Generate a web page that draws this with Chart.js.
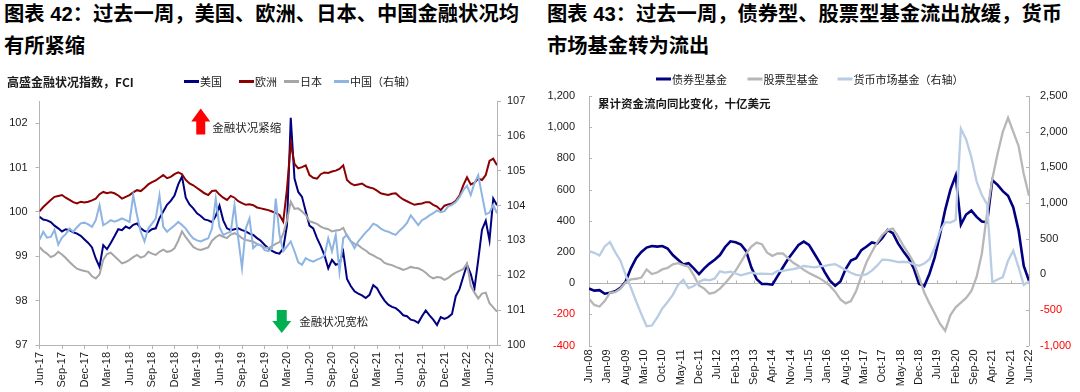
<!DOCTYPE html>
<html>
<head>
<meta charset="utf-8">
<script src="https://cdn.jsdelivr.net/npm/chart.js@4.4.0/dist/chart.umd.min.js"></script>
<style>
  body { margin: 0; width: 1080px; height: 392px; background: #fff; overflow: hidden; }
  .panel { position: absolute; top: 0; width: 540px; height: 392px; }
  .title { position: absolute; top: -2px; font: bold 20.3px/32px "Liberation Sans", "Noto Sans CJK SC", sans-serif; color: #000; white-space: nowrap; }
  canvas { position: absolute; left: 0; top: 0; }
</style>
</head>
<body>
<div class="panel" style="left:0">
  <div class="title" style="left:4px">图表 42：过去一周，美国、欧洲、日本、中国金融状况均<br>有所紧缩</div>
  <canvas id="fci-chart" width="540" height="392"></canvas>
</div>
<div class="panel" style="left:540px">
  <div class="title" style="left:7px">图表 43：过去一周，债券型、股票型基金流出放缓，货币<br>市场基金转为流出</div>
  <canvas id="flow-chart" width="540" height="392"></canvas>
</div>
<script>
// ---- chart 42: FCI, half-month steps from Jun-17 ----
const fciTicks = ["Jun-17","Sep-17","Dec-17","Mar-18","Jun-18","Sep-18","Dec-18","Mar-19","Jun-19","Sep-19","Dec-19",
  "Mar-20","Jun-20","Sep-20","Dec-20","Mar-21","Jun-21","Sep-21","Dec-21","Mar-22","Jun-22"];
const fciLeftTicks = [97, 98, 99, 100, 101, 102];
const fciRightTicks = [100, 101, 102, 103, 104, 105, 106, 107];
const fciNames = ["美国", "欧洲", "日本", "中国（右轴）"];

const fciUS = [99.89,99.83,99.81,99.77,99.69,99.63,99.56,99.61,99.59,99.54,
  99.51,99.46,99.38,99.30,99.20,98.95,98.76,99.25,99.16,99.30,
  99.45,99.61,99.59,99.67,99.63,99.71,99.74,99.63,99.57,99.55,
  99.61,99.63,99.86,100.01,100.16,100.25,100.37,100.62,100.80,100.32,
  100.17,100.08,99.97,99.91,99.83,99.81,99.77,99.91,100.14,99.81,
  99.63,99.59,99.61,99.63,99.59,99.56,99.51,99.48,99.41,99.35,
  99.26,99.18,99.12,99.08,99.06,99.18,99.70,102.12,100.75,100.45,
  100.34,100.01,99.69,99.63,99.41,99.23,99.02,98.73,98.92,98.81,
  98.84,99.10,98.49,98.33,98.21,98.16,98.12,98.06,98.13,98.35,
  98.28,98.13,98.00,97.91,97.86,97.83,97.76,97.67,97.65,97.57,
  97.55,97.50,97.65,97.78,97.67,97.57,97.45,97.63,97.59,97.63,
  97.70,98.10,98.26,98.54,98.81,98.60,98.28,98.92,99.60,99.80,
  99.36,100.30,100.15];
const fciEU = [100.01,100.11,100.19,100.27,100.34,100.36,100.38,100.32,100.27,100.22,
  100.19,100.23,100.21,100.23,100.26,100.30,100.40,100.45,100.42,100.44,
  100.42,100.37,100.30,100.34,100.38,100.44,100.49,100.47,100.54,100.62,
  100.67,100.71,100.77,100.83,100.76,100.79,100.85,100.89,100.85,100.72,
  100.64,100.60,100.54,100.48,100.42,100.38,100.47,100.48,100.39,100.32,
  100.27,100.36,100.32,100.24,100.20,100.16,100.17,100.15,100.10,100.08,
  100.06,100.04,100.01,99.98,99.93,99.78,100.52,101.55,101.08,100.98,
  101.01,101.05,100.83,100.77,100.75,100.85,100.89,100.88,100.91,100.93,
  100.97,101.05,100.72,100.64,100.60,100.62,100.64,100.58,100.55,100.53,
  100.48,100.42,100.40,100.38,100.41,100.42,100.34,100.28,100.24,100.20,
  100.16,100.18,100.19,100.22,100.22,100.16,100.12,100.04,100.14,100.17,
  100.19,100.25,100.37,100.60,100.78,100.62,100.66,100.75,100.72,100.83,
  101.15,101.20,101.05];
const fciJP = [99.21,99.12,99.06,98.98,99.02,99.10,99.04,98.96,98.87,98.79,
  98.72,98.69,98.67,98.65,98.55,98.50,98.59,98.92,99.05,99.08,
  99.00,98.92,98.84,98.87,98.92,98.98,99.03,98.97,99.00,99.10,
  99.06,99.03,99.10,99.15,99.10,99.12,99.18,99.35,99.56,99.43,
  99.32,99.21,99.16,99.14,99.17,99.20,99.35,99.43,99.48,99.44,
  99.41,99.49,99.52,99.48,99.41,99.37,99.35,99.33,99.28,99.24,
  99.20,99.18,99.23,99.28,99.32,99.51,99.81,100.23,100.07,100.08,
  100.01,99.93,99.79,99.76,99.73,99.67,99.63,99.61,99.56,99.58,
  99.59,99.64,99.46,99.34,99.28,99.25,99.18,99.13,99.06,99.02,
  98.97,98.93,98.85,98.82,98.80,98.76,98.73,98.69,98.72,98.76,
  98.74,98.73,98.69,98.63,98.55,98.50,98.53,98.52,98.47,98.51,
  98.58,98.63,98.67,98.71,98.84,98.33,98.18,98.05,98.16,98.18,
  97.94,97.85,97.75];
const fciCN = [103.02,103.25,103.08,103.10,103.30,102.88,103.08,103.18,103.34,103.25,
  103.38,103.49,103.51,103.46,103.39,103.58,104.01,103.44,103.50,103.58,
  103.54,103.58,103.63,103.58,103.53,104.29,103.72,103.25,102.97,103.34,
  103.48,103.63,104.29,103.39,103.25,103.34,103.43,103.53,103.44,103.34,
  103.18,103.06,103.00,102.97,103.02,103.06,103.34,104.20,103.38,103.16,
  103.21,103.25,104.01,103.06,102.21,103.34,103.63,102.78,102.88,102.87,
  102.73,102.69,102.76,104.20,103.16,102.69,102.83,102.97,102.69,102.37,
  102.30,102.49,102.43,102.39,102.45,102.49,102.57,103.06,102.69,103.16,
  102.10,103.06,103.16,102.98,102.78,102.97,103.10,103.23,103.34,103.48,
  103.43,103.34,103.28,103.25,103.20,103.16,103.28,103.38,103.50,103.72,
  103.58,103.44,103.58,103.64,103.72,103.78,103.86,103.81,103.84,103.98,
  104.02,104.10,104.24,104.44,104.57,104.30,104.65,104.87,104.30,103.75,
  103.80,104.02,103.78];

// ---- chart 43: fund flows, two-month steps from Jun-08 ----
const flowTicks = ["Jun-08","Jan-09","Aug-09","Mar-10","Oct-10","May-11","Dec-11","Jul-12","Feb-13","Sep-13",
  "Apr-14","Nov-14","Jun-15","Jan-16","Aug-16","Mar-17","Oct-17","May-18","Dec-18","Jul-19",
  "Feb-20","Sep-20","Apr-21","Nov-21","Jun-22"];
const flowLeftTicks = [-400, -200, 0, 200, 400, 600, 800, 1000, 1200];
const flowRightTicks = [-1000, -500, 0, 500, 1000, 1500, 2000, 2500];
const flowNames = ["债券型基金", "股票型基金", "货币市场基金（右轴）"];

const flowBond = [-35,-48,-45,-68,-62,-52,-30,10,95,160,
  200,228,238,234,238,222,180,150,120,128,
  95,58,95,125,150,180,232,268,262,248,
  205,100,26,-6,-6,-10,45,100,155,200,
  245,266,245,190,135,70,15,-17,10,90,
  145,160,212,235,261,253,290,340,320,255,
  205,160,95,-5,-20,60,165,310,470,600,
  690,375,440,465,425,395,390,660,630,590,
  560,485,340,110,15];
const flowEquity = [-100,-140,-150,-115,-62,-58,-35,5,24,28,
  36,88,58,68,88,98,120,128,115,105,
  50,-15,-35,-68,-60,-35,0,40,80,135,
  190,235,260,250,195,175,190,190,160,130,
  110,85,65,48,32,10,-18,-55,-105,-130,
  -115,-50,45,135,200,260,310,340,350,300,
  240,190,130,40,-60,-130,-195,-260,-305,-205,
  -155,-125,-95,-50,40,190,450,670,830,970,
  1060,970,880,700,560];
const flowMMF = [326,300,262,390,450,310,190,-10,-190,-380,
  -560,-730,-720,-610,-480,-390,-290,-150,-80,-195,
  -165,-110,-75,-85,-60,40,22,35,10,-15,
  5,25,5,8,5,2,45,48,60,70,
  90,115,105,95,110,117,130,140,100,60,
  20,-10,-20,0,50,120,205,200,187,170,
  175,165,140,118,150,210,370,600,730,725,
  760,2040,1890,1640,1300,1110,980,-114,-75,-40,
  190,330,100,-150,-100];

const tickFont = { family: "Liberation Sans", size: 11 };
const cjkFont = '"Noto Sans CJK SC", sans-serif';
const axisGrey = "#b4b4b4";

// legend drawn by hand so items sit where they sit in the report
function legendPlugin(items) {
  return {
    id: "handLegend",
    afterDraw(chart) {
      const ctx = chart.ctx;
      ctx.save();
      ctx.font = "11px " + cjkFont;
      ctx.textBaseline = "middle";
      items.forEach(it => {
        ctx.strokeStyle = it.color;
        ctx.lineWidth = 3;
        ctx.beginPath();
        ctx.moveTo(it.x, it.y);
        ctx.lineTo(it.x + 15, it.y);
        ctx.stroke();
        ctx.fillStyle = "#1a1a1a";
        ctx.fillText(it.label, it.x + 16, it.y + 0.5);
      });
      ctx.restore();
    }
  };
}

function labelPlugin(id, texts) {
  return {
    id: id,
    afterDraw(chart) {
      const ctx = chart.ctx;
      ctx.save();
      ctx.textBaseline = "middle";
      texts.forEach(t => {
        ctx.font = t.font;
        ctx.fillStyle = t.color;
        ctx.fillText(t.text, t.x, t.y);
      });
      ctx.restore();
    }
  };
}

// red / green arrows, placed with the chart's own scales
const arrowPlugin = {
  id: "fciArrows",
  afterDraw(chart) {
    const { ctx, scales: { x, y } } = chart;
    ctx.save();
    // tightening, pointing up
    let cx = x.getPixelForValue(21.5), top = y.getPixelForValue(102.33);
    ctx.fillStyle = "#ff0000";
    ctx.beginPath();
    ctx.moveTo(cx, top);
    ctx.lineTo(cx + 9.5, top + 13);
    ctx.lineTo(cx + 4.5, top + 13);
    ctx.lineTo(cx + 4.5, top + 26);
    ctx.lineTo(cx - 4.5, top + 26);
    ctx.lineTo(cx - 4.5, top + 13);
    ctx.lineTo(cx - 9.5, top + 13);
    ctx.closePath();
    ctx.fill();
    // easing, pointing down
    cx = x.getPixelForValue(32.3);
    top = y.getPixelForValue(97.79);
    ctx.fillStyle = "#00b050";
    ctx.beginPath();
    ctx.moveTo(cx - 5, top);
    ctx.lineTo(cx + 5, top);
    ctx.lineTo(cx + 5, top + 11);
    ctx.lineTo(cx + 9.5, top + 11);
    ctx.lineTo(cx, top + 23);
    ctx.lineTo(cx - 9.5, top + 11);
    ctx.lineTo(cx - 5, top + 11);
    ctx.closePath();
    ctx.fill();
    ctx.font = "11.5px " + cjkFont;
    ctx.fillStyle = "#262626";
    ctx.textBaseline = "middle";
    ctx.fillText("金融状况紧缩", x.getPixelForValue(21.5) + 11.5, y.getPixelForValue(102.33) + 19);
    ctx.fillText("金融状况宽松", cx + 17.5, top + 12);
    ctx.restore();
  }
};

// inward tick marks on the flow chart, x ticks sit on the zero line
const flowTickPlugin = {
  id: "flowTicks",
  beforeDatasetsDraw(chart) {
    const { ctx, scales: { x, y, y1 } } = chart;
    ctx.save();
    ctx.strokeStyle = axisGrey;
    ctx.lineWidth = 1;
    ctx.beginPath();
    const zeroY = Math.round(y.getPixelForValue(0)) + 0.5;
    x.ticks.forEach(t => {
      const px = Math.round(x.getPixelForValue(t.value)) + 0.5;
      ctx.moveTo(px, zeroY - 3);
      ctx.lineTo(px, zeroY);
    });
    y.ticks.forEach(t => {
      const py = Math.round(y.getPixelForValue(t.value)) + 0.5;
      ctx.moveTo(y.right, py);
      ctx.lineTo(y.right + 3, py);
    });
    y1.ticks.forEach(t => {
      const py = Math.round(y1.getPixelForValue(t.value)) + 0.5;
      ctx.moveTo(y1.left - 3, py);
      ctx.lineTo(y1.left, py);
    });
    ctx.stroke();
    ctx.restore();
  }
};

function series(values, step) {
  return values.map((v, i) => ({ x: i * step, y: v }));
}

const fciColors = ["#000080", "#8b0000", "#a6a6a6", "#8db4e2"];

new Chart(document.getElementById("fci-chart").getContext("2d"), {
  type: "line",
  data: {
    datasets: [
      { label: fciNames[0], data: series(fciUS, 0.5), borderColor: fciColors[0], borderWidth: 2, yAxisID: "y", order: 3 },
      { label: fciNames[1], data: series(fciEU, 0.5), borderColor: fciColors[1], borderWidth: 2, yAxisID: "y", order: 2 },
      { label: fciNames[2], data: series(fciJP, 0.5), borderColor: fciColors[2], borderWidth: 2, yAxisID: "y", order: 1 },
      { label: fciNames[3], data: series(fciCN, 0.5), borderColor: fciColors[3], borderWidth: 2, yAxisID: "y1", order: 0 }
    ]
  },
  options: {
    responsive: false,
    animation: false,
    layout: { padding: { top: 101, left: 0, right: 0, bottom: 0 } },
    elements: { point: { radius: 0 }, line: { tension: 0 } },
    plugins: { legend: { display: false }, tooltip: { enabled: false } },
    scales: {
      x: {
        type: "linear", min: 0, max: 61,
        afterBuildTicks: s => { s.ticks = fciTicks.map((_, i) => ({ value: i * 3 })); },
        afterFit: s => { s.height = 47; },
        ticks: { autoSkip: false, minRotation: 90, maxRotation: 90, padding: 3, color: "#1a1a1a", font: tickFont,
                 callback: (v, i) => fciTicks[i] },
        grid: { drawOnChartArea: false, tickLength: 4, color: axisGrey },
        border: { color: axisGrey }
      },
      y: {
        position: "left", min: 97, max: 102.5,
        afterBuildTicks: s => { s.ticks = fciLeftTicks.map(v => ({ value: v })); },
        afterFit: s => { s.width = 39.5; },
        ticks: { padding: 8, color: "#1a1a1a", font: tickFont },
        grid: { drawOnChartArea: false, tickLength: 4, color: axisGrey },
        border: { color: axisGrey }
      },
      y1: {
        position: "right", min: 100, max: 107,
        afterBuildTicks: s => { s.ticks = fciRightTicks.map(v => ({ value: v })); },
        afterFit: s => { s.width = 43; },
        ticks: { padding: 6, color: "#1a1a1a", font: tickFont },
        grid: { drawOnChartArea: false, tickLength: 4, color: axisGrey },
        border: { color: axisGrey }
      }
    }
  },
  plugins: [
    arrowPlugin,
    legendPlugin([
      { label: fciNames[0], color: fciColors[0], x: 184, y: 81.5 },
      { label: fciNames[1], color: fciColors[1], x: 239, y: 81.5 },
      { label: fciNames[2], color: fciColors[2], x: 284, y: 81.5 },
      { label: fciNames[3], color: fciColors[3], x: 334, y: 81.5 }
    ]),
    labelPlugin("fciAxisTitle", [
      { text: "高盛金融状况指数，FCI", x: 7, y: 82, font: "bold 12px " + cjkFont, color: "#1a1a1a" }
    ])
  ]
});

const flowColors = ["#000080", "#b7b7b7", "#b8cce4"];
const fmt = v => v.toLocaleString("en-US");
const negRed = c => (c.tick && c.tick.value < 0 ? "#ff0000" : "#1a1a1a");

new Chart(document.getElementById("flow-chart").getContext("2d"), {
  type: "line",
  data: {
    datasets: [
      { label: flowNames[0], data: series(flowBond, 2), borderColor: flowColors[0], borderWidth: 2.6, yAxisID: "y", order: 2 },
      { label: flowNames[1], data: series(flowEquity, 2), borderColor: flowColors[1], borderWidth: 2.3, yAxisID: "y", order: 1 },
      { label: flowNames[2], data: series(flowMMF, 2), borderColor: flowColors[2], borderWidth: 2.3, yAxisID: "y1", order: 0 }
    ]
  },
  options: {
    responsive: false,
    animation: false,
    layout: { padding: { top: 96, left: 0, right: 0, bottom: 0 } },
    elements: { point: { radius: 0 }, line: { tension: 0 } },
    plugins: { legend: { display: false }, tooltip: { enabled: false } },
    scales: {
      x: {
        type: "linear", min: 0, max: 168,
        afterBuildTicks: s => { s.ticks = flowTicks.map((_, i) => ({ value: i * 7 })); },
        afterFit: s => { s.height = 46.5; },
        ticks: { autoSkip: false, minRotation: 90, maxRotation: 90, padding: 4, color: "#1a1a1a", font: tickFont,
                 callback: (v, i) => flowTicks[i] },
        grid: { display: false, drawTicks: false },
        border: { display: false }
      },
      y: {
        position: "left", min: -400, max: 1200,
        afterBuildTicks: s => { s.ticks = flowLeftTicks.map(v => ({ value: v })); },
        afterFit: s => { s.width = 49; },
        ticks: { padding: 14, color: negRed, font: tickFont, callback: v => fmt(v) },
        grid: { drawTicks: false, color: c => (c.tick && c.tick.value === 0 ? axisGrey : "rgba(0,0,0,0)") },
        border: { color: axisGrey }
      },
      y1: {
        position: "right", min: -1000, max: 2500,
        afterBuildTicks: s => { s.ticks = flowRightTicks.map(v => ({ value: v })); },
        afterFit: s => { s.width = 51; },
        ticks: { padding: 11, color: negRed, font: tickFont, callback: v => fmt(v) },
        grid: { drawOnChartArea: false, drawTicks: false },
        border: { color: axisGrey }
      }
    }
  },
  plugins: [
    flowTickPlugin,
    legendPlugin([
      { label: flowNames[0], color: flowColors[0], x: 116, y: 79 },
      { label: flowNames[1], color: flowColors[1], x: 207.5, y: 79 },
      { label: flowNames[2], color: flowColors[2], x: 297.5, y: 79 }
    ]),
    labelPlugin("flowNote", [
      { text: "累计资金流向同比变化，十亿美元", x: 58, y: 103.5, font: "bold 11.5px " + cjkFont, color: "#1a1a1a" }
    ])
  ]
});
</script>
</body>
</html>
